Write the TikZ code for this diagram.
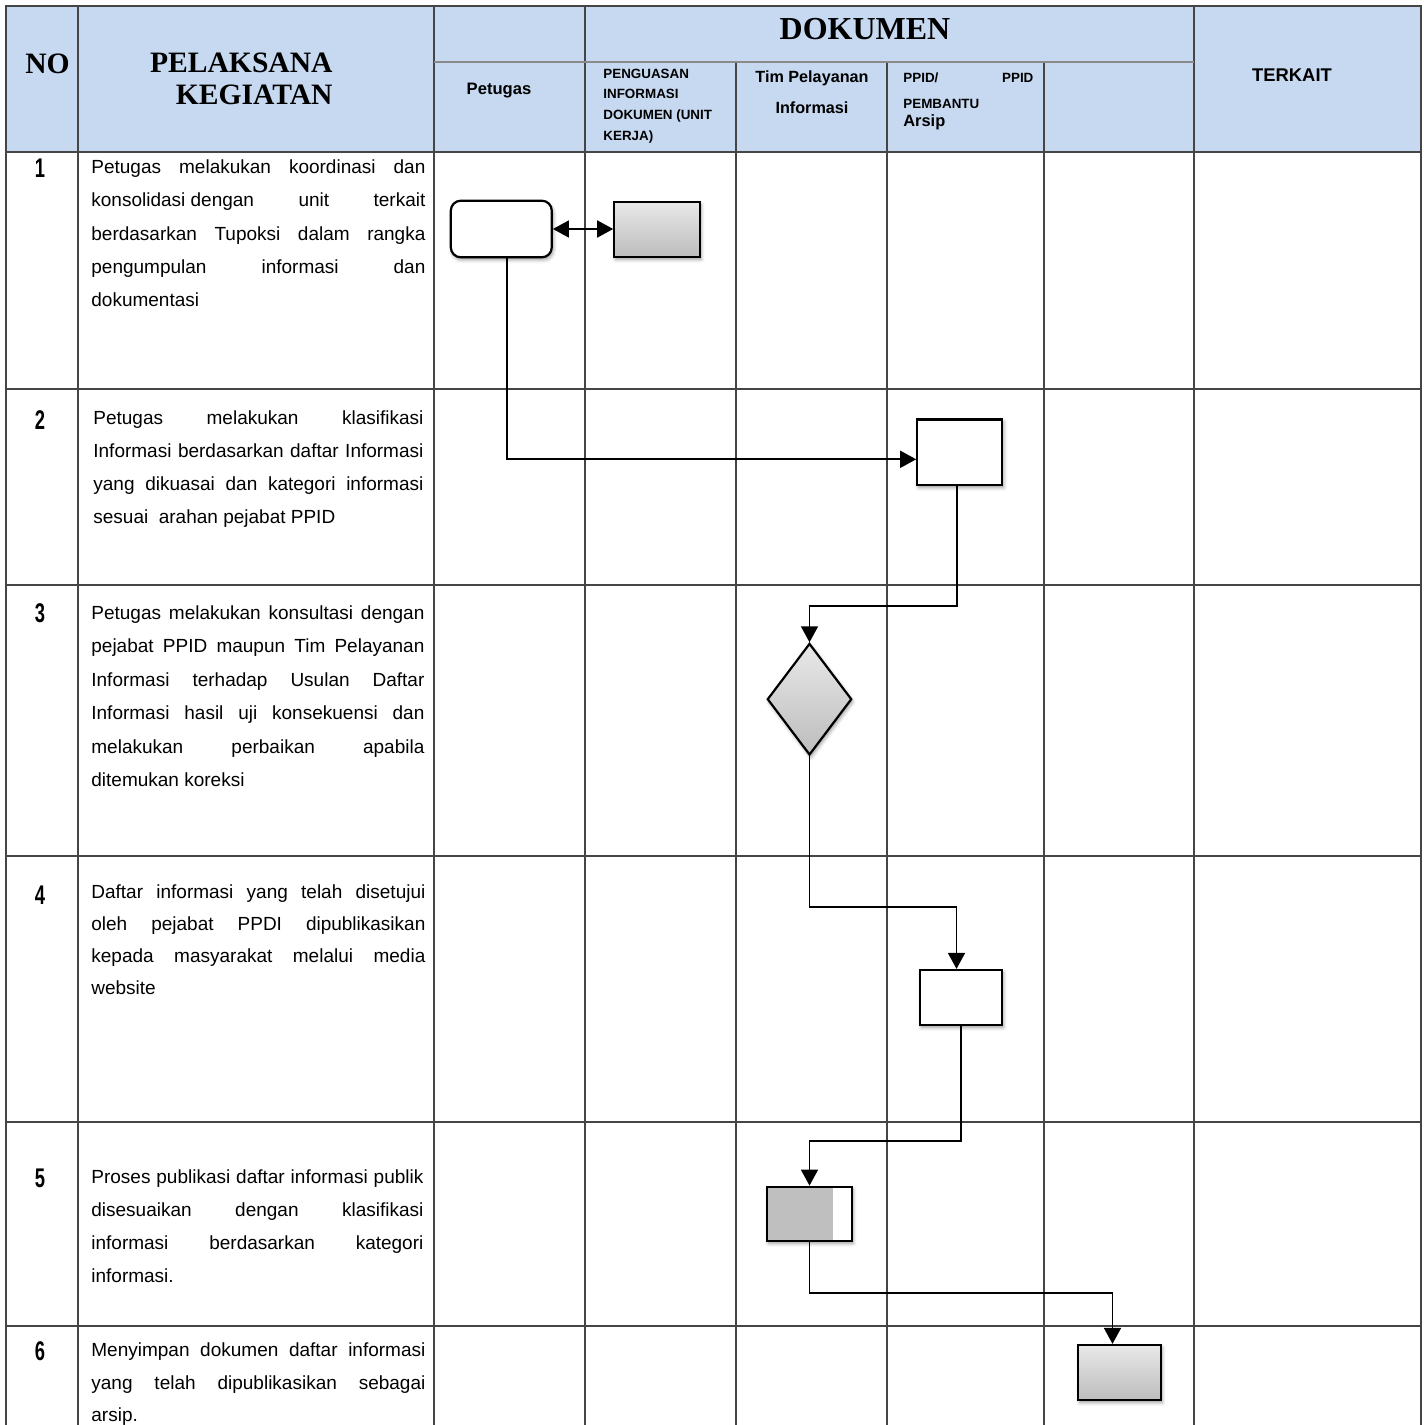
\documentclass[tikz,border=0pt]{standalone}
\usepackage{fontspec}
\usepackage{graphicx}
\setmainfont{Liberation Sans}
\newfontfamily\tmsfont{Liberation Serif}
\usetikzlibrary{arrows.meta,shapes.geometric,shadows.blur}
\definecolor{hdr}{HTML}{C6D9F0}
\definecolor{gridc}{HTML}{454545}
\definecolor{hgrid}{HTML}{8A8A8A}
\definecolor{shlight}{HTML}{E8E8E8}
\definecolor{shdark}{HTML}{BDBDBD}
\definecolor{midgray}{HTML}{BFBFBF}
\newcommand{\jline}[1]{\makebox[\linewidth][s]{#1}\\}
\newcommand{\dgt}[1]{\scalebox{0.68}[1]{#1}}
\begin{document}
\begin{tikzpicture}[x=0.5pt,y=-0.5pt,
  gridline/.style={draw=gridc,line width=0.7pt},
  outerline/.style={draw=gridc,line width=0.9pt},
  hdrline/.style={draw=hgrid,line width=0.7pt},
  conn/.style={draw=black,line width=0.85pt,-{Triangle[length=8pt,width=8.5pt]}},
  dconn/.style={draw=black,line width=0.85pt,{Triangle[length=8pt,width=8.5pt]}-{Triangle[length=8pt,width=8.5pt]}},
  boxbase/.style={draw=black,line width=1.1pt,inner sep=0pt,
    blur shadow={shadow xshift=0.7pt,shadow yshift=-1.3pt,shadow blur radius=1.8pt,shadow opacity=40}},
  plainbox/.style={boxbase,rectangle,fill=white},
  gradbox/.style={boxbase,rectangle,top color=shlight,bottom color=shdark},
  desc/.style={anchor=base west,inner sep=0pt},
  num/.style={inner sep=0pt,font=\fontsize{13.5}{13.5}\selectfont\bfseries},
  bigserif/.style={inner sep=0pt,font=\tmsfont\bfseries\fontsize{14.8}{16}\selectfont},
  hsmall/.style={inner sep=0pt,font=\bfseries\fontsize{6.7}{10.35}\selectfont},
]
\useasboundingbox (0,0) rectangle (1424,1425);

% header background
\fill[hdr] (6,6) rectangle (1421,152);

% table grid
\foreach \x in {78,434,585,1194} \draw[gridline] (\x,6) -- (\x,1425);
\foreach \x in {736,887,1044} \draw[gridline] (\x,62) -- (\x,1425);
\draw[hdrline] (434,62) -- (1194,62);
\foreach \y in {152,389,585,856,1122,1326} \draw[gridline] (6,\y) -- (1421,\y);
\draw[outerline] (6,1425) -- (6,6) -- (1421,6) -- (1421,1425);

% header texts
\node[bigserif,anchor=base] (hNo) at (47.5,73) {NO};
\node[bigserif,anchor=base east] (hPel1) at (333,72.3) {PELAKSANA};
\node[bigserif,anchor=base east] (hPel2) at (333,104) {KEGIATAN};
\node[inner sep=0pt,anchor=base,font=\tmsfont\bfseries\fontsize{16}{18}\selectfont] (hDok) at (865,39.5) {DOKUMEN};
\node[inner sep=0pt,anchor=base,font=\bfseries\fontsize{8.3}{10}\selectfont] (hPet) at (499,94.3) {Petugas};
\node[hsmall,anchor=base west] (hPeng) at (603,78) {\parbox[t]{64pt}{\raggedright PENGUASAN\\INFORMASI\\DOKUMEN (UNIT\\KERJA)}};
\node[inner sep=0pt,anchor=base,font=\bfseries\fontsize{8.1}{10}\selectfont] (hTim1) at (812,82) {Tim Pelayanan};
\node[inner sep=0pt,anchor=base,font=\bfseries\fontsize{8.1}{10}\selectfont] (hTim2) at (812,113) {Informasi};
\node[hsmall,anchor=base west] (hPpid1) at (903,82) {\makebox[65pt][s]{PPID/ PPID}};
\node[hsmall,anchor=base west] (hPpid2) at (903,108) {PEMBANTU};
\node[inner sep=0pt,anchor=base west,font=\bfseries\fontsize{8.2}{10}\selectfont] (hArsip) at (903,126.7) {Arsip};
\node[inner sep=0pt,anchor=base,font=\bfseries\fontsize{9.2}{11}\selectfont] (hTerk) at (1292,81.5) {TERKAIT};

% row numbers
\node[num] (k1) at (40,168.5) {\dgt{1}};
\node[num] (k2) at (40,420.5) {\dgt{2}};
\node[num] (k3) at (40,613.5) {\dgt{3}};
\node[num] (k4) at (40,895.5) {\dgt{4}};
\node[num] (k5) at (40,1178) {\dgt{5}};
\node[num] (k6) at (40,1351.5) {\dgt{6}};

% descriptions
\node[desc] (d1) at (91,173.5) {\parbox[t]{167pt}{\fontsize{9.5}{16.65}\selectfont
\jline{Petugas melakukan koordinasi dan}
\jline{konsolidasi dengan\hfill unit\hfill terkait}
\jline{berdasarkan Tupoksi dalam rangka}
\jline{pengumpulan informasi dan}
dokumentasi}};
\node[desc] (d2) at (93,424) {\parbox[t]{165pt}{\fontsize{9.5}{16.65}\selectfont
\jline{Petugas melakukan klasifikasi}
\jline{Informasi berdasarkan daftar Informasi}
\jline{yang dikuasai dan kategori informasi}
sesuai\ \ arahan pejabat PPID}};
\node[desc] (d3) at (91,619) {\parbox[t]{166.5pt}{\fontsize{9.5}{16.75}\selectfont
\jline{Petugas melakukan konsultasi dengan}
\jline{pejabat PPID maupun Tim Pelayanan}
\jline{Informasi terhadap Usulan Daftar}
\jline{Informasi hasil uji konsekuensi dan}
\jline{melakukan perbaikan apabila}
ditemukan koreksi}};
\node[desc] (d4) at (91,898) {\parbox[t]{167pt}{\fontsize{9.5}{16}\selectfont
\jline{Daftar informasi yang telah disetujui}
\jline{oleh pejabat PPDI dipublikasikan}
\jline{kepada masyarakat melalui media}
website}};
\node[desc] (d5) at (91,1183) {\parbox[t]{166pt}{\fontsize{9.5}{16.65}\selectfont
\jline{Proses publikasi daftar informasi publik}
\jline{disesuaikan dengan klasifikasi}
\jline{informasi berdasarkan kategori}
informasi.}};
\node[desc] (d6) at (91,1356.5) {\parbox[t]{167pt}{\fontsize{9.5}{16.3}\selectfont
\jline{Menyimpan dokumen daftar informasi}
\jline{yang telah dipublikasikan sebagai}
arsip.}};

% flow shapes
\node[plainbox,rounded corners=5pt,minimum width=50.5pt,minimum height=28.3pt] (n1) at (501.3,229) {};
\node[gradbox,minimum width=42.7pt,minimum height=27.2pt] (n2) at (657,229.5) {};
\node[plainbox,minimum width=42.5pt,minimum height=32.8pt] (n3) at (959.8,452.2) {};
\node[boxbase,diamond,top color=shlight,bottom color=shdark,minimum width=42.2pt,minimum height=55.8pt] (n4) at (809.5,699.2) {};
\node[plainbox,minimum width=41pt,minimum height=27.5pt] (n5) at (961,997.5) {};
\node[plainbox,minimum width=42.2pt,minimum height=27pt,
  path picture={\fill[midgray] (path picture bounding box.south west) rectangle ([xshift=-9.2pt]path picture bounding box.north east);}] (n6) at (809.5,1213.7) {};
\node[gradbox,minimum width=41.2pt,minimum height=27.5pt] (n7) at (1119.5,1372.5) {};

% bend points
\coordinate (b1) at (506.7,459.3);
\coordinate (b2) at (956.7,605.7);
\coordinate (b4) at (956.5,907);
\coordinate (b5) at (961,1141);
\coordinate (b6) at (1112.5,1293.3);

% connectors
\draw[dconn] (n1.east) -- (n2.west |- n1.east);
\draw[conn] (n1.south -| b1) -- (b1) -- (n3.west |- b1);
\draw[conn] (n3.south -| b2) -- (b2) -| (n4.north);
\draw[conn] (n4.south) |- (b4) -- (n5.north -| b4);
\draw[conn] (n5.south -| b5) -- (b5) -| (n6.north);
\draw[conn] (n6.south) |- (b6) -- (n7.north -| b6);
\end{tikzpicture}
\end{document}
